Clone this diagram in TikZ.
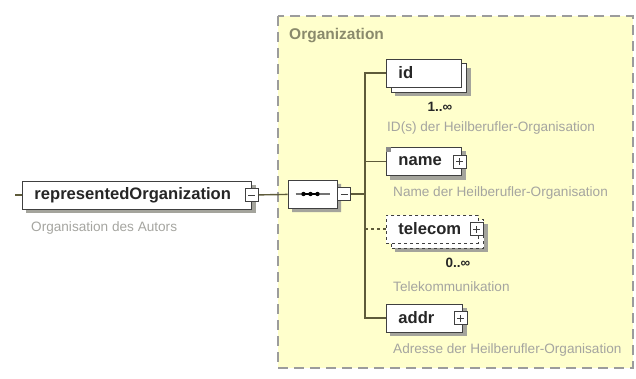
\documentclass[tikz,border=0pt]{standalone}
\usepackage{fontspec}
\setmainfont{Liberation Sans}
\usetikzlibrary{shapes.misc, positioning}
\pgfdeclarelayer{panel}
\pgfdeclarelayer{shade}
\pgfsetlayers{panel,shade,main}
\definecolor{paneyellow}{HTML}{FFFFCC}
\definecolor{panedash}{HTML}{9C9C9C}
\definecolor{connline}{HTML}{5E5B3A}
\definecolor{boxline}{HTML}{404040}
\definecolor{headtext}{HTML}{8A8A6C}
\definecolor{desctext}{HTML}{A5A5A0}
\definecolor{shadegray}{HTML}{A4A49C}
\tikzstyle{elem} = [rectangle, draw=boxline, fill=white, line width=0.9pt, anchor=west,
    minimum height=28pt, inner xsep=12pt, inner ysep=0pt, align=left,
    font=\bfseries\fontsize{16.6}{18}\selectfont, text=black!85]
\tikzstyle{desc} = [anchor=west, inner sep=0pt, text=desctext, font=\fontsize{13.6}{15}\selectfont]
\tikzstyle{card} = [inner sep=0pt, text=black!85, font=\bfseries\fontsize{13.5}{14}\selectfont]
\tikzstyle{pmbox} = [rectangle, draw=boxline, fill=white, line width=0.8pt, minimum size=13pt, inner sep=0pt]
\tikzstyle{minusbox} = [pmbox, path picture={
    \draw[boxline, line width=0.9pt] ([xshift=-3.5pt]path picture bounding box.center) -- ([xshift=3.5pt]path picture bounding box.center);}]
\tikzstyle{plusbox} = [pmbox, path picture={
    \draw[boxline, line width=0.9pt] ([xshift=-3.5pt]path picture bounding box.center) -- ([xshift=3.5pt]path picture bounding box.center);
    \draw[boxline, line width=0.9pt] ([yshift=-3.5pt]path picture bounding box.center) -- ([yshift=3.5pt]path picture bounding box.center);}]
\tikzstyle{octa} = [chamfered rectangle, chamfered rectangle xsep=9pt, minimum width=49pt, minimum height=28pt, inner sep=0pt]
\tikzstyle{seqbox} = [octa, draw=boxline, fill=white, line width=0.9pt,
    path picture={
    \draw[black!55, line width=1.2pt] ([xshift=-17pt]path picture bounding box.center) -- ([xshift=17pt]path picture bounding box.center);
    \draw[black, line width=2pt] ([xshift=-10pt]path picture bounding box.center) -- ([xshift=6pt]path picture bounding box.center);
    \foreach \dx in {-9,-2,5} \fill[black] ([xshift=\dx pt]path picture bounding box.center) circle (2.2pt);}]
\tikzstyle{link} = [draw=connline, line width=1.4pt]

\begin{document}
\begin{tikzpicture}[x=1pt, y=-1pt]
        \useasboundingbox (0,0) rectangle (636,379);
        % Nodes
        \node [anchor=west, inner sep=0pt, text=headtext, font=\bfseries\fontsize{15.5}{18}\selectfont] (panetitle) at (289,36) {Organization};

        \coordinate (stub) at (15,195);
        \node [elem, text width=205pt] (repr) at (22,195) {representedOrganization};
        \node [minusbox] (reprpm) at (repr.east) {};
        \node [desc] (reprdesc) at (31,228) {Organisation des Autors};

        \node [seqbox] (seq) at (312.5,194) {};
        \node [minusbox, anchor=west] (seqpm) at (seq.east) {};
        \coordinate (fork) at (365,194);

        \node [elem, text width=51pt] (id) at (386,73) {id};
        \node [card] (idcard) at (440,107) {1..∞};
        \node [desc] (iddesc) at (387,128) {ID(s) der Heilberufler-Organisation};

        \node [elem, text width=51pt] (name) at (386,161.5) {name};
        \node [plusbox] (namepm) at ([xshift=-2pt]name.east) {};
        \fill [black!45] (name.north west) rectangle ++(5,5);
        \node [desc] (namedesc) at (393,193) {Name der Heilberufler-Organisation};

        \node [elem, dashed, text width=68pt] (telecom) at (386,229) {telecom};
        \node [plusbox] (telecompm) at ([xshift=-2pt]telecom.east) {};
        \node [card] (telecomcard) at (458,263) {0..∞};
        \node [desc] (telecomdesc) at (393,287) {Telekommunikation};

        \node [elem, text width=52pt] (addr) at (386,318) {addr};
        \node [plusbox] (addrpm) at ([xshift=-2pt]addr.east) {};
        \node [desc] (addrdesc) at (393,350) {Adresse der Heilberufler-Organisation};

        % Pane and shadows
        \begin{pgfonlayer}{panel}
            \draw [fill=paneyellow, draw=panedash, line width=1.2pt, dash pattern=on 10pt off 6pt] (278,16) rectangle (633,368);
        \end{pgfonlayer}
        \begin{pgfonlayer}{shade}
            \foreach \n in {repr, name, addr}
                \fill [shadegray] ([shift={(4,4)}]\n.north west) rectangle ([shift={(4,4)}]\n.south east);
            \node [octa, fill=shadegray] at ([shift={(4,4)}]seq.center) {};
            \foreach \n/\pat in {id/solid, telecom/dashed} {
                \fill [shadegray] ([shift={(9,9)}]\n.north west) rectangle ([shift={(9,9)}]\n.south east);
                \draw [boxline, fill=white, line width=0.9pt, \pat] ([shift={(5,5)}]\n.north west) rectangle ([shift={(5,5)}]\n.south east);
            }
        \end{pgfonlayer}

        % Lines
        \path [link] (stub) -- (repr);
        \path [link] (reprpm) -- (seq);
        \path [link] (seqpm) -- (fork);
        \path [link] (id.west) -| (fork) |- (addr.west);
        \path [link] (fork |- name.west) -- (name.west);
        \path [link, dashed] (fork |- telecom.west) -- (telecom.west);
\end{tikzpicture}
\end{document}
